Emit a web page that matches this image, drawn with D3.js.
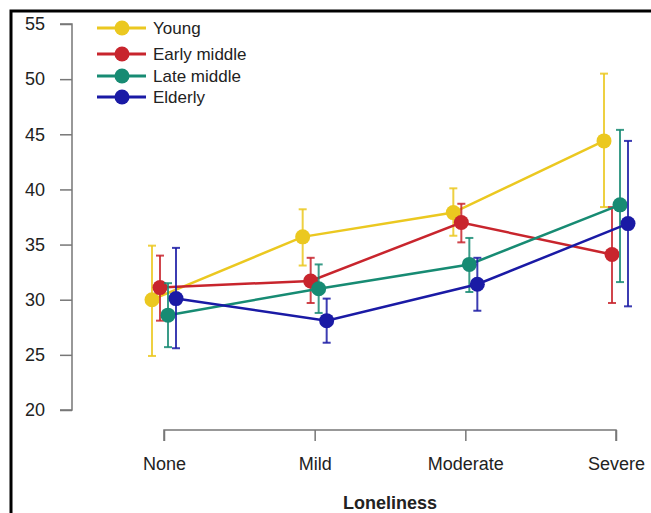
<!doctype html>
<html>
<head>
  <style>
    body { margin:0; background:#fff; }
    text { font-family: "Liberation Sans", Arial, Helvetica, sans-serif; }
  </style>
  <script src="https://d3js.org/d3.v7.min.js"></script>
</head>
<body>
  <script type="text/javascript">
    // values
    var categories = ["None", "Mild", "Moderate", "Severe"];
    var groups = ["Young", "Early middle", "Late middle", "Elderly"];
    var colors = ["#EBC820", "#C8252D", "#178B73", "#1A1AA5"];
    var yTicks = [20, 25, 30, 35, 40, 45, 50, 55];

    var youngMean = [30.0, 35.7, 37.9, 44.4];
    var youngLow  = [24.9, 33.1, 35.8, 38.4];
    var youngHigh = [34.9, 38.2, 40.1, 50.5];

    var earlyMean = [31.1, 31.7, 37.0, 34.1];
    var earlyLow  = [28.1, 29.7, 35.2, 29.7];
    var earlyHigh = [34.0, 33.8, 38.7, 38.4];

    var lateMean = [28.6, 31.0, 33.2, 38.6];
    var lateLow  = [25.7, 28.8, 30.7, 31.6];
    var lateHigh = [31.5, 33.2, 35.6, 45.4];

    var elderMean = [30.1, 28.1, 31.4, 36.9];
    var elderLow  = [25.6, 26.1, 29.0, 29.4];
    var elderHigh = [34.7, 30.1, 33.8, 44.4];

    var means = [youngMean, earlyMean, lateMean, elderMean];
    var lows = [youngLow, earlyLow, lateLow, elderLow];
    var highs = [youngHigh, earlyHigh, lateHigh, elderHigh];

    var svg = d3.select("body")
      .append("svg")
        .attr("width", 651)
        .attr("height", 513);

    // frame
    svg.append("path")
      .attr("d", "M11,513 V11 H651")
      .attr("fill", "none")
      .attr("stroke", "#000")
      .attr("stroke-width", 3);

    var x = d3.scalePoint().domain(categories).range([164, 616]);
    var y = d3.scaleLinear().domain([20, 55]).range([410, 24]);
    var dodge = d3.scalePoint().domain(groups).range([-12, 12]);

    // y axis
    var yAxis = svg.append("g")
      .attr("transform", "translate(72,0)")
      .call(d3.axisLeft(y).tickValues(yTicks).tickSize(12).tickPadding(15));
    // x axis
    var xAxis = svg.append("g")
      .attr("transform", "translate(0,430)")
      .call(d3.axisBottom(x).tickSize(11).tickSizeOuter(0).tickPadding(16));

    [yAxis, xAxis].forEach(function(a) {
      a.select(".domain").attr("stroke", "#777").attr("stroke-width", 1.5);
      a.selectAll(".tick line").attr("stroke", "#777").attr("stroke-width", 1.5);
      a.selectAll(".tick text")
        .attr("fill", "#222")
        .style("font-size", "18px")
        .style("font-family", "'Liberation Sans', Arial, sans-serif");
    });
    yAxis.select(".domain").attr("d", "M-12," + y(20) + "H0V" + y(55) + "H-12");
    xAxis.select(".domain").attr("d", "M" + x("None") + ",11V0H" + x("Severe") + "V11");

    svg.append("text")
      .attr("x", 390)
      .attr("y", 509)
      .attr("text-anchor", "middle")
      .style("font-weight", "bold")
      .style("font-size", "18px")
      .attr("fill", "#222")
      .text("Loneliness");

    // series
    groups.forEach(function(g, i) {
      var off = dodge(g);
      var pts = categories.map(function(c, j) {
        return { c: c, m: means[i][j], lo: lows[i][j], hi: highs[i][j] };
      });
      var gs = svg.append("g");

      // error bars
      var eb = gs.selectAll(".eb").data(pts).enter().append("g")
        .attr("stroke", colors[i])
        .attr("stroke-opacity", 0.85)
        .attr("stroke-width", 2);
      eb.append("line")
        .attr("x1", function(d) { return x(d.c) + off; })
        .attr("x2", function(d) { return x(d.c) + off; })
        .attr("y1", function(d) { return y(d.lo); })
        .attr("y2", function(d) { return y(d.hi); });
      eb.append("line")
        .attr("x1", function(d) { return x(d.c) + off - 4; })
        .attr("x2", function(d) { return x(d.c) + off + 4; })
        .attr("y1", function(d) { return y(d.lo); })
        .attr("y2", function(d) { return y(d.lo); });
      eb.append("line")
        .attr("x1", function(d) { return x(d.c) + off - 4; })
        .attr("x2", function(d) { return x(d.c) + off + 4; })
        .attr("y1", function(d) { return y(d.hi); })
        .attr("y2", function(d) { return y(d.hi); });

      var line = d3.line()
        .x(function(d) { return x(d.c) + off; })
        .y(function(d) { return y(d.m); });
      gs.append("path")
        .datum(pts)
        .attr("d", line)
        .attr("fill", "none")
        .attr("stroke", colors[i])
        .attr("stroke-width", 2.5);

      gs.selectAll("circle").data(pts).enter().append("circle")
        .attr("cx", function(d) { return x(d.c) + off; })
        .attr("cy", function(d) { return y(d.m); })
        .attr("r", 7.5)
        .attr("fill", colors[i]);
    });

    // legend
    var legendY = [28, 54, 76, 97];
    groups.forEach(function(g, i) {
      var lg = svg.append("g").attr("transform", "translate(0," + legendY[i] + ")");
      lg.append("line")
        .attr("x1", 97).attr("x2", 146)
        .attr("stroke", colors[i]).attr("stroke-width", 3);
      lg.append("circle")
        .attr("cx", 122).attr("r", 7.5).attr("fill", colors[i]);
      lg.append("text")
        .attr("x", 153).attr("y", 6)
        .style("font-size", "17px")
        .attr("fill", "#222")
        .text(g);
    });
  </script>
</body>
</html>
